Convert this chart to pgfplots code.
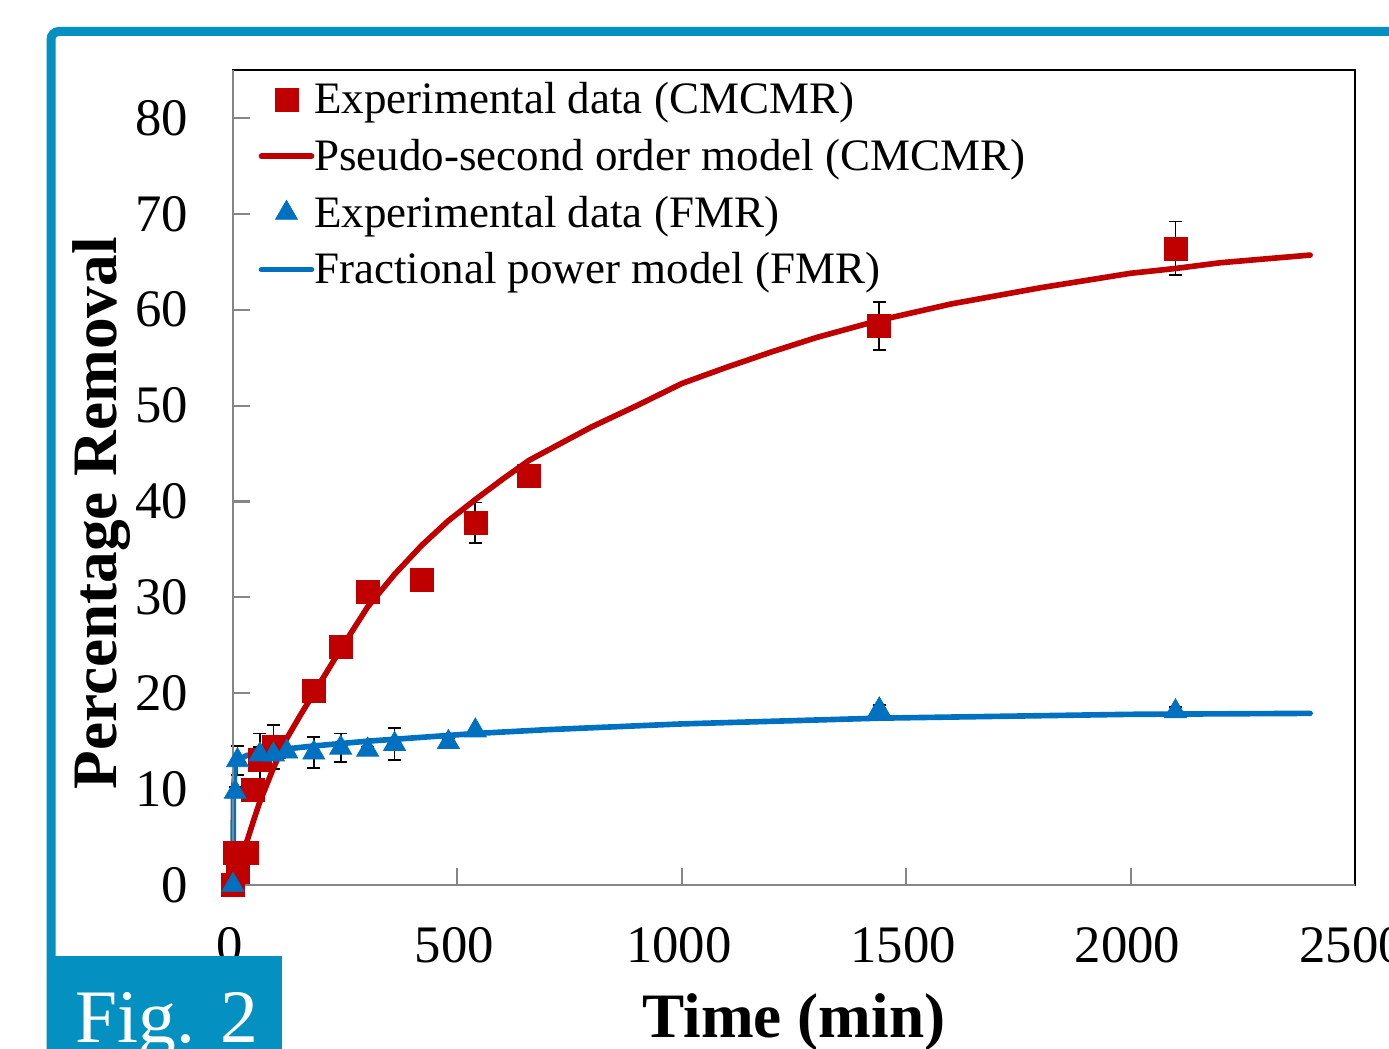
\documentclass[border=0pt]{standalone}
\usepackage{fontspec}
\setmainfont{Liberation Serif}
\usepackage{pgfplots}
\pgfplotsset{compat=1.18}
\definecolor{cRed}{RGB}{192,0,0}
\definecolor{cBlue}{RGB}{0,112,192}
\definecolor{cFrame}{RGB}{4,144,193}
\definecolor{cAxis}{RGB}{134,134,134}

\begin{document}
\begin{tikzpicture}
\useasboundingbox (0,0) rectangle (138.9mm,104.9mm);
% outer frame
\draw[cFrame, line width=0.9mm, rounded corners=0.8mm]
  (5.1mm,-2mm) -- (5.1mm,101.75mm) -- (150mm,101.75mm);

\begin{axis}[
  at={(23.3mm,16.4mm)}, anchor=south west,
  width=112.2mm, height=81.5mm, scale only axis,
  xmin=0, xmax=2500, ymin=0, ymax=85,
  xtick={0,500,...,2500}, ytick={0,10,...,80},
  tick align=inside, xtick pos=bottom, ytick pos=left,
  major tick length=1.7mm,
  major tick style={cAxis, line width=0.6pt},
  axis line style={black, line width=0.5pt},
  clip=false,
  /pgf/number format/assume math mode=true,
  /pgf/number format/1000 sep={},
  tick label style={font=\fontsize{15}{18}\selectfont},
  yticklabel style={anchor=east, inner sep=0pt, xshift=-4.4mm},
  xticklabel style={anchor=base, inner sep=0pt, yshift=-7.8mm, xshift=-0.3mm},
  xlabel={Time (min)},
  ylabel={Percentage Removal},
  xlabel style={at={(rel axis cs:0.5,-0.1877)}, anchor=base, inner sep=0pt,
    font=\bfseries\fontsize{18}{22}\selectfont},
  ylabel style={at={(rel axis cs:-0.1175,0.456)}, anchor=center, inner sep=0pt,
    font=\bfseries\fontsize{18}{22}\selectfont},
  legend image code/.code={\draw[mark repeat=2,mark phase=2,#1]
    plot coordinates {(0mm,0.35mm) (2.5mm,0.35mm) (5.0mm,0.35mm)};},
  legend style={at={(rel axis cs:0,1)}, anchor=north west,
    xshift=2.5mm, yshift=-0.4mm,
    draw=none, fill=none, inner sep=0pt, row sep=0pt,
    /tikz/column sep=0pt,
    font=\fontsize{12.8}{15}\selectfont,
    nodes={inner sep=0pt, text height=3.9mm, text depth=1.77mm}},
  legend cell align=left,
]
% CMCMR experimental: time, removal, error
\addplot[only marks, mark=square*, mark size=1.15mm,
  mark options={fill=cRed, draw=cRed, line width=0.2pt},
  error bars/.cd, y dir=both, y explicit,
  error bar style={black, line width=0.5pt},
  error mark options={rotate=90, black, line width=0.5pt, mark size=0.65mm}]
  table[x=t, y=y, y error=e] {
t y e
0 0 0
10 1.4 0
5 3.3 0
30 3.3 0
45 9.9 1.0
60 13.1 2.7
90 14.4 2.3
180 20.3 0
240 24.8 0
300 30.6 1.0
420 31.8 0
540 37.8 2.1
660 42.7 0
1440 58.3 2.5
2100 66.4 2.8
};
\addlegendentry{Experimental data (CMCMR)}
\addplot[cRed, line width=1.6pt, line join=round, line cap=round] coordinates {
(0,0) (15,2.2) (30,4.4) (45,6.6) (60,8.7) (90,12.2) (120,15.3) (150,17.7)
(180,20.0) (240,24.6) (300,29.0) (360,32.4) (420,35.4) (480,38.0) (540,40.2)
(600,42.3) (660,44.3) (720,45.8) (800,47.8) (900,50.0) (1000,52.3) (1100,54.0)
(1200,55.6) (1300,57.1) (1440,58.9) (1600,60.6) (1800,62.3) (2000,63.8)
(2100,64.3) (2200,64.9) (2300,65.3) (2400,65.7)};
\addlegendentry{Pseudo-second order model (CMCMR)}
% FMR experimental
\addplot[only marks, mark=triangle*, mark size=1.27mm,
  mark options={fill=cBlue, draw=cBlue, line width=0.2pt},
  error bars/.cd, y dir=both, y explicit,
  error bar style={black, line width=0.5pt},
  error mark options={rotate=90, black, line width=0.5pt, mark size=0.65mm}]
  table[x=t, y=y, y error=e] {
t y e
0 0 0
5 9.7 0.5
10 13.0 1.5
60 13.6 0.8
90 13.6 0
120 13.9 0
180 13.8 1.6
240 14.3 1.5
300 14.1 0.3
360 14.7 1.7
480 14.9 0.4
540 16.1 0
1440 18.3 0.5
2100 18.1 0.5
};
\addlegendentry{Experimental data (FMR)}
\addplot[cBlue, line width=1.6pt, line join=round, line cap=round] coordinates {
(0,0) (1,9.8) (5,12.4) (10,13.0) (30,13.5) (60,13.8) (120,14.2) (180,14.5)
(300,15.0) (480,15.6) (540,15.8) (700,16.2) (1000,16.8) (1440,17.4)
(2000,17.8) (2400,17.9)};
\addlegendentry{Fractional power model (FMR)}
% grey left and bottom axis lines
\draw[cAxis, line width=0.7pt] (rel axis cs:0,1) -- (rel axis cs:0,0) -- (rel axis cs:1,0);
\end{axis}

% figure tag
\fill[cFrame] (4.65mm,-2mm) rectangle (28.2mm,9.3mm);
\node[anchor=base west, inner sep=0pt, text=white,
  font=\fontsize{21.5}{26}\selectfont] at (7.5mm,0.6mm) {Fig. 2};
\end{tikzpicture}
\end{document}
